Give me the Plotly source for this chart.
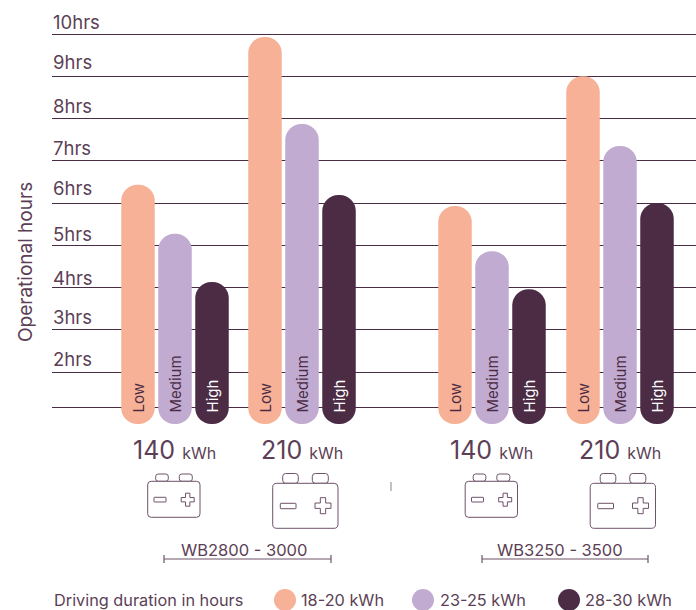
import plotly.graph_objects as go

# ---- data ----
levels = ["Low", "Medium", "High"]
series_names = ["18-20 kWh", "23-25 kWh", "28-30 kWh"]
low_hours = [6.43, 9.93, 5.93, 9.0]
medium_hours = [5.27, 7.87, 4.86, 7.35]
high_hours = [4.13, 6.19, 3.96, 6.0]
capacity_labels = ["140", "210", "140", "210"]
model_labels = ["WB2800 - 3000", "WB3250 - 3500"]
tick_values = [2, 3, 4, 5, 6, 7, 8, 9, 10]
tick_labels = ["2hrs", "3hrs", "4hrs", "5hrs", "6hrs", "7hrs", "8hrs", "9hrs", "10hrs"]
baseline_hours = 1.15
bar_floor_hours = 0.77

# ---- style / layout ----
W, H = 696, 610
INK = "#5c3f56"
GRID = "#4a2c44"
COLORS = ["#f7b196", "#c1abd1", "#4b2c44"]
FONT = "Inter"
group_centers = [175, 302, 492, 620]
bar_step = 37
bar_width = 33.5
PX_PER_HR = 42.25
y_top = 10 + 34 / PX_PER_HR
y_bot = 10 - (H - 34) / PX_PER_HR
tick_label_lift = [13, 13, 10, 11, 15, 13, 13, 14, 12]

def px(x): return x / W
def py(y): return 1 - y / H

fig = go.Figure()
for i, (name, vals) in enumerate(zip(series_names, [low_hours, medium_hours, high_hours])):
    xs = [c + (i - 1) * bar_step for c in group_centers]
    fig.add_bar(x=xs, y=[v - bar_floor_hours for v in vals], base=bar_floor_hours, width=bar_width, name=name,
                marker=dict(color=COLORS[i], line_width=0, cornerradius=bar_width / 2),
                hoverinfo="skip", showlegend=False)

shapes, ann = [], []

def text(x, y, s, size, xanchor="center", yanchor="middle", color=INK, angle=0, xref="paper"):
    ann.append(dict(x=x if xref == "x" else px(x), y=py(y), xref=xref, yref="paper", text=s, showarrow=False,
                    xanchor=xanchor, yanchor=yanchor, textangle=angle, borderpad=0, borderwidth=0,
                    font=dict(family=FONT, size=size, color=color)))

def line(x0, y0, x1, y1, color="#6e5269", width=1.2):
    shapes.append(dict(type="line", xref="paper", yref="paper", x0=px(x0), y0=py(y0), x1=px(x1), y1=py(y1),
                       line=dict(color=color, width=width)))

def rrect(x0, y0, x1, y1, r, color="#6e5269"):
    p = lambda a, b: f"{px(a):.5f},{py(b):.5f}"
    d = (f"M{p(x0 + r, y0)} L{p(x1 - r, y0)} Q{p(x1, y0)} {p(x1, y0 + r)} L{p(x1, y1 - r)} Q{p(x1, y1)} {p(x1 - r, y1)} "
         f"L{p(x0 + r, y1)} Q{p(x0, y1)} {p(x0, y1 - r)} L{p(x0, y0 + r)} Q{p(x0, y0)} {p(x0 + r, y0)} Z")
    shapes.append(dict(type="path", xref="paper", yref="paper", path=d, line=dict(color=color, width=1),
                       fillcolor="white"))

def plus(cx, cy, s):
    a, b = s / 2, s / 6
    pts = [(-b, -a), (b, -a), (b, -b), (a, -b), (a, b), (b, b), (b, a), (-b, a), (-b, b), (-a, b), (-a, -b), (-b, -b)]
    d = "M" + " L".join(f"{px(cx + u):.5f},{py(cy + v):.5f}" for u, v in pts) + " Z"
    shapes.append(dict(type="path", xref="paper", yref="paper", path=d, line=dict(color="#6e5269", width=1)))

def battery(dx, big):
    if big:
        rrect(282.7 + dx, 473.5, 298.3 + dx, 483.3, 3)
        rrect(312.3 + dx, 473.5, 328.3 + dx, 483.3, 3)
        rrect(272.7 + dx, 483.3, 338 + dx, 528.3, 4)
        rrect(280.3 + dx, 503.3, 296 + dx, 508.7, 0.5)
        plus(323 + dx, 505.7, 16)
    else:
        rrect(155.7 + dx, 474, 168.3 + dx, 481.3, 2.5)
        rrect(179.3 + dx, 474, 192.3 + dx, 481.3, 2.5)
        rrect(147.7 + dx, 481.3, 200 + dx, 517.3, 3.5)
        rrect(154 + dx, 497.3, 166 + dx, 502, 0.5)
        plus(187.7 + dx, 499.7, 13)

# tick labels sit above their gridlines, at the data value
for v, lab, lift in zip(tick_values, tick_labels, tick_label_lift):
    ann.append(dict(x=px(51.5), y=v, xref="paper", yref="y", yshift=lift, text=lab, showarrow=False,
                    xanchor="left", yanchor="middle", borderpad=0,
                    font=dict(family=FONT, size=18.5, color=INK)))

# labels in bars
for i, lv in enumerate(levels):
    for c in group_centers:
        text(c + (i - 1) * bar_step, 413, lv, 15, yanchor="bottom", angle=-90,
             color="#ffffff" if i == 2 else "#4b2c44", xref="x")

# capacity labels and batteries
for c, lab in zip(group_centers, capacity_labels):
    text(c - 0.5, 450, f'{lab} <span style="font-size:16px">kWh</span>', 25)
battery(0, False); battery(0, True)
battery(317.5, False); battery(317.5, True)

# brackets
for (x0, x1), cx, lab in zip([(164, 331), (482, 648)], [243.5, 560], model_labels):
    line(x0, 559, x1, 559)
    line(x0, 555, x0, 563)
    line(x1, 555, x1, 563)
    text(cx, 550, lab, 16.5)

line(391, 482, 391, 491, color="#8d8088", width=1)

# axis title and legend row
text(25, 262, "Operational hours", 19, angle=-90)
text(54, 600, "Driving duration in hours", 16.3, xanchor="left")
for cx, tx, col, name in zip([285, 423, 569], [301, 440, 585], COLORS, series_names):
    shapes.append(dict(type="circle", xref="paper", yref="paper", x0=px(cx - 11), x1=px(cx + 11),
                       y0=py(611), y1=py(589), fillcolor=col, line_width=0))
    text(tx, 600, name, 16.3, xanchor="left")

fig.update_layout(
    width=W, height=H, margin=dict(l=0, r=0, t=0, b=0), paper_bgcolor="white", plot_bgcolor="white",
    barmode="overlay", showlegend=False, shapes=shapes, annotations=ann,
    font=dict(family=FONT, color=INK),
    xaxis=dict(domain=[52 / W, 1], range=[52, W], visible=False, fixedrange=True),
    yaxis=dict(domain=[0, 1], range=[y_bot, y_top], fixedrange=True, showline=False, zeroline=False,
               tickmode="array", tickvals=[baseline_hours] + tick_values, showticklabels=False,
               ticks="", showgrid=True, gridcolor=GRID, gridwidth=1),
)
fig.write_html("out.html", config={"displayModeBar": False},
               post_script="document.body.style.margin='0';document.documentElement.style.overflow='hidden';")
